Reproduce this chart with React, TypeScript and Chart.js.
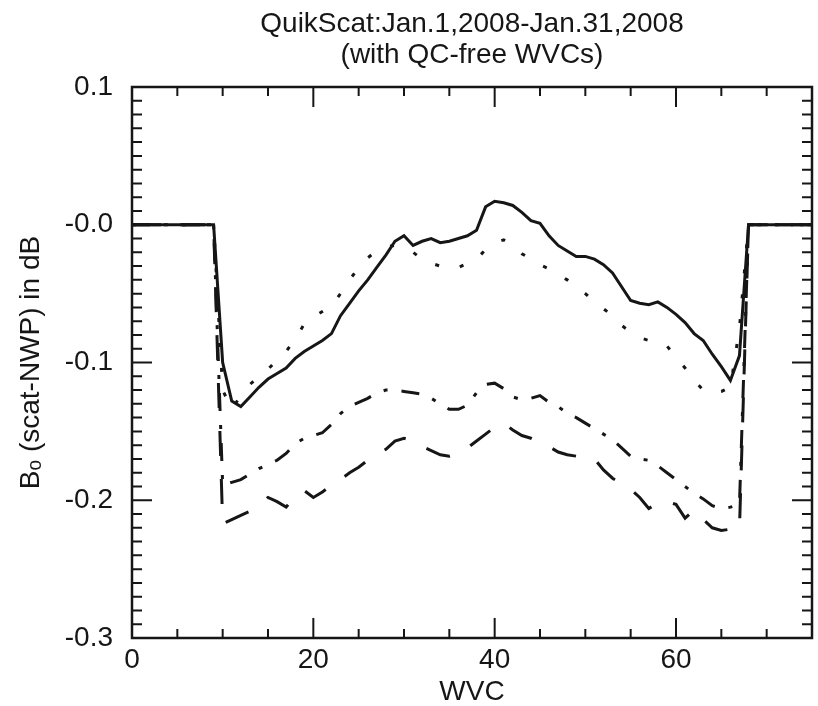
import React, { useEffect, useRef } from "react";
import { Chart, registerables } from "chart.js";

Chart.register(...registerables);

// WVC index (x categories)
const wvc = [
  0, 1, 2, 3, 4, 5, 6, 7, 8, 9, 10, 11, 12, 13, 14, 15, 16, 17, 18, 19,
  20, 21, 22, 23, 24, 25, 26, 27, 28, 29, 30, 31, 32, 33, 34, 35, 36, 37, 38, 39,
  40, 41, 42, 43, 44, 45, 46, 47, 48, 49, 50, 51, 52, 53, 54, 55, 56, 57, 58, 59,
  60, 61, 62, 63, 64, 65, 66, 67, 68, 69, 70, 71, 72, 73, 74, 75,
];

// solid line
const solidSeries = [
  0, 0, 0, 0, 0, 0, 0, 0, 0, 0,
  -0.1, -0.128, -0.132, -0.125, -0.118, -0.112, -0.108, -0.104, -0.097, -0.092,
  -0.088, -0.084, -0.079, -0.066, -0.057, -0.048, -0.04, -0.031, -0.022, -0.012,
  -0.008, -0.015, -0.012, -0.01, -0.013, -0.012, -0.01, -0.008, -0.004, 0.013,
  0.017, 0.016, 0.014, 0.009, 0.003, 0.001, -0.008, -0.015, -0.019, -0.023,
  -0.023, -0.025, -0.029, -0.035, -0.045, -0.055, -0.057, -0.058, -0.056, -0.06,
  -0.065, -0.071, -0.079, -0.084, -0.094, -0.103, -0.113, -0.095,
  0, 0, 0, 0, 0, 0, 0, 0,
];

// dotted line
const dottedSeries = [
  0, 0, 0, 0, 0, 0, 0, 0, 0, 0,
  -0.12, -0.134, -0.124, -0.116, -0.11, -0.105, -0.098, -0.092, -0.083, -0.072,
  -0.067, -0.063, -0.059, -0.05, -0.04, -0.031, -0.024, -0.019, -0.016, -0.015,
  -0.017, -0.02, -0.025, -0.028, -0.03, -0.031, -0.031, -0.028, -0.025, -0.018,
  -0.013, -0.011, -0.015, -0.021, -0.025, -0.029, -0.032, -0.036, -0.04, -0.045,
  -0.05, -0.056, -0.061, -0.066, -0.073, -0.078, -0.082, -0.084, -0.085, -0.088,
  -0.096, -0.104, -0.113, -0.12, -0.122, -0.121, -0.118, -0.075,
  0, 0, 0, 0, 0, 0, 0, 0,
];

// dash-dot line
const dashDotSeries = [
  0, 0, 0, 0, 0, 0, 0, 0, 0, 0,
  -0.189, -0.187, -0.185, -0.181, -0.177, -0.174, -0.171, -0.166, -0.159, -0.155,
  -0.153, -0.151, -0.145, -0.137, -0.132, -0.129, -0.126, -0.122, -0.12, -0.12,
  -0.121, -0.122, -0.123, -0.126, -0.13, -0.134, -0.134, -0.131, -0.122, -0.116,
  -0.115, -0.119, -0.125, -0.127, -0.126, -0.124, -0.129, -0.132, -0.137, -0.14,
  -0.144, -0.148, -0.152, -0.156, -0.162, -0.168, -0.17, -0.171, -0.175, -0.18,
  -0.185, -0.19, -0.195, -0.199, -0.204, -0.206, -0.205, -0.203,
  0, 0, 0, 0, 0, 0, 0, 0,
];

// long-dash line
const dashedSeries = [
  0, 0, 0, 0, 0, 0, 0, 0, 0, 0,
  -0.217, -0.214, -0.211, -0.208, -0.204, -0.198, -0.201, -0.205, -0.197, -0.193,
  -0.198, -0.194, -0.189, -0.185, -0.18, -0.176, -0.171, -0.167, -0.163, -0.157,
  -0.155, -0.157, -0.161, -0.164, -0.167, -0.168, -0.166, -0.162, -0.157, -0.152,
  -0.147, -0.144, -0.149, -0.153, -0.155, -0.158, -0.161, -0.165, -0.167, -0.168,
  -0.169, -0.17, -0.178, -0.184, -0.188, -0.192, -0.198, -0.206, -0.202, -0.201,
  -0.203, -0.213, -0.207, -0.214, -0.22, -0.222, -0.221, -0.221,
  0, 0, 0, 0, 0, 0, 0, 0,
];

const xTickValues = [0, 20, 40, 60];
const yTickValues = [-0.3, -0.2, -0.1, 0, 0.1];
const titleLines = ["QuikScat:Jan.1,2008-Jan.31,2008", "(with QC-free WVCs)"];
const xTitle = "WVC";
const yTitle = "B\u2092 (scat-NWP) in dB";

const INK = "#161616";
const FONT = "'Liberation Sans', Arial, Helvetica, sans-serif";

const framePlugin = {
  id: "idlFrame",
  afterDatasetsDraw(chart: any) {
    const { ctx, chartArea, scales } = chart;
    const { left, right, top, bottom } = chartArea;
    const xs = scales.x;
    const ys = scales.y;
    ctx.save();
    ctx.strokeStyle = INK;
    ctx.lineCap = "butt";
    ctx.lineWidth = 2;
    ctx.beginPath();
    for (let v = 0; v <= 75; v += 5) {
      const px = xs.getPixelForValue(v);
      const len = v % 20 === 0 ? 20 : 9;
      ctx.moveTo(px, bottom);
      ctx.lineTo(px, bottom - len);
      ctx.moveTo(px, top);
      ctx.lineTo(px, top + len);
    }
    for (let i = 0; i <= 40; i++) {
      const v = -0.3 + i * 0.01;
      const py = ys.getPixelForValue(v);
      const len = i % 10 === 0 ? 20 : 10;
      ctx.moveTo(left, py);
      ctx.lineTo(left + len, py);
      ctx.moveTo(right, py);
      ctx.lineTo(right - len, py);
    }
    ctx.stroke();
    ctx.lineWidth = 2.5;
    ctx.strokeRect(left, top, right - left, bottom - top);
    ctx.restore();
  },
};

export default function App() {
  const canvasRef = useRef<HTMLCanvasElement | null>(null);

  useEffect(() => {
    document.body.style.margin = "0";
    const canvas = canvasRef.current;
    if (!canvas) return;

    const mk = (vals: number[]) => vals.map((v, i) => ({ x: wvc[i], y: v }));

    const chart = new Chart(canvas, {
      type: "line",
      data: {
        datasets: [
          {
            label: "solid",
            data: mk(solidSeries),
            borderColor: INK,
            borderWidth: 3,
            pointRadius: 0,
            tension: 0,
          },
          {
            label: "dotted",
            data: mk(dottedSeries),
            borderColor: INK,
            borderWidth: 3,
            borderDash: [4, 21],
            pointRadius: 0,
            tension: 0,
          },
          {
            label: "dashdot",
            data: mk(dashDotSeries),
            borderColor: INK,
            borderWidth: 3,
            borderDash: [18, 14, 4, 14],
            pointRadius: 0,
            tension: 0,
          },
          {
            label: "dashed",
            data: mk(dashedSeries),
            borderColor: INK,
            borderWidth: 3,
            borderDash: [25, 23],
            pointRadius: 0,
            tension: 0,
          },
        ],
      },
      options: {
        responsive: false,
        animation: false,
        devicePixelRatio: 1,
        layout: { padding: { left: 0, right: 6, top: 0, bottom: 0 } },
        plugins: {
          legend: { display: false },
          tooltip: { enabled: false },
          title: {
            display: true,
            text: titleLines,
            fullSize: false,
            color: INK,
            font: { family: FONT, size: 28, weight: "normal", lineHeight: 1.1 },
            padding: { top: 9, bottom: 16.4 },
          },
        },
        scales: {
          x: {
            type: "linear",
            min: 0,
            max: 75,
            grid: { display: false, drawTicks: false },
            border: { display: false },
            afterBuildTicks: (scale: any) => {
              scale.ticks = xTickValues.map((v) => ({ value: v }));
            },
            afterFit: (scale: any) => {
              scale.height = 68;
            },
            ticks: {
              padding: 5,
              color: INK,
              maxRotation: 0,
              font: { family: FONT, size: 28, lineHeight: 1.2 },
              callback: (v: any) => String(v),
            },
            title: {
              display: true,
              text: xTitle,
              color: INK,
              font: { family: FONT, size: 28, lineHeight: 1.0 },
              padding: { top: 0, bottom: 0 },
            },
          },
          y: {
            type: "linear",
            min: -0.3,
            max: 0.1,
            grid: { display: false, drawTicks: false },
            border: { display: false },
            afterBuildTicks: (scale: any) => {
              scale.ticks = yTickValues.map((v) => ({ value: v }));
            },
            afterFit: (scale: any) => {
              scale.width = 132;
            },
            ticks: {
              padding: 19,
              color: INK,
              font: { family: FONT, size: 28, lineHeight: 1.2 },
              callback: (v: any) => {
                const n = Number(v);
                return n > 0.0001 ? n.toFixed(1) : "-" + Math.abs(n).toFixed(1);
              },
            },
            title: {
              display: true,
              text: yTitle,
              color: INK,
              font: { family: FONT, size: 28, lineHeight: 1.0 },
              padding: { top: 17, bottom: 0 },
            },
          },
        },
      },
      plugins: [framePlugin],
    } as any);

    return () => {
      chart.destroy();
    };
  }, []);

  return (
    <div style={{ position: "relative", width: 818, height: 706, background: "#fff" }}>
      <canvas ref={canvasRef} width={818} height={706} style={{ display: "block" }} />
    </div>
  );
}
